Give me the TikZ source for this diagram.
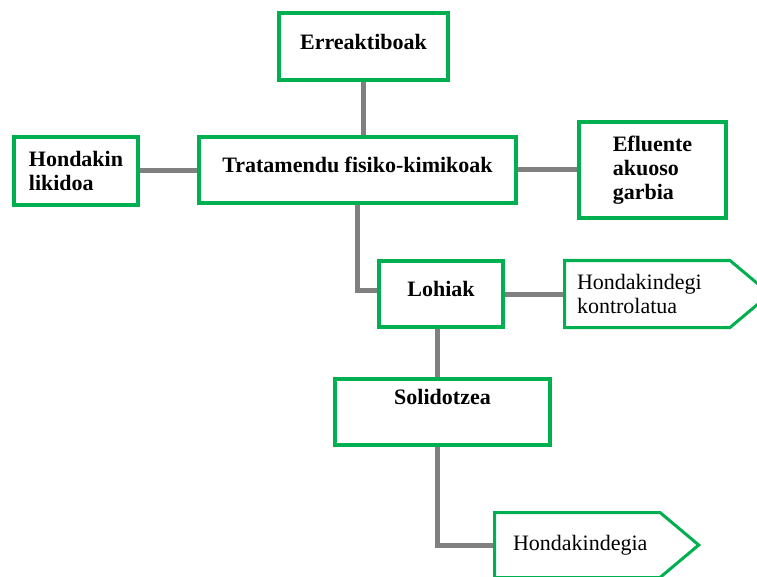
\documentclass[tikz,border=0pt]{standalone}
\usepackage{fontspec}
\setmainfont{Liberation Serif}
\usepackage{tikz}
\usetikzlibrary{shapes,positioning,backgrounds}
\definecolor{boxgreen}{RGB}{0,176,80}
\definecolor{linegray}{RGB}{128,128,128}

\begin{document}
\begin{tikzpicture}[
    x=1pt, y=-1pt,
    font=\fontsize{22}{24}\selectfont,
    box/.style={rectangle, draw=boxgreen, line width=4pt, fill=white,
                inner sep=0pt, font=\fontsize{22}{24}\selectfont\bfseries},
    title/.style={box, text depth=10pt},
    endbox/.style={signal, signal to=east, signal pointer angle=80, draw=boxgreen,
                line width=3pt, fill=white, align=left, inner ysep=0pt},
    link/.style={draw=linegray, line width=5pt}
]
\useasboundingbox (0,0) rectangle (757,577);
\clip (0,0) rectangle (757,577);

\node[title, minimum width=169pt, minimum height=67pt] (erreak) at (363.5,46.5) {Erreaktiboak};
\node[title, minimum width=317pt, minimum height=66pt] (trat) at (357.5,170) {Tratamendu fisiko-kimikoak};
\node[box, align=left, minimum width=124pt, minimum height=68pt] (hond) at (76,171) {Hondakin\\likidoa};
\node[box, align=left, minimum width=147pt, minimum height=96pt] (eflu) at (652.5,170) {Efluente\\akuoso\\garbia};
\node[title, minimum width=124pt, minimum height=66pt] (lohiak) at (441,294) {Lohiak};
\node[box, text depth=31pt, minimum width=215pt, minimum height=66pt] (solid) at (442.5,412) {Solidotzea};
\node[endbox, text width=140.5pt, inner xsep=12.5pt, minimum height=67pt] (kontrol) at (647.25,294) {Hondakindegi\\kontrolatua};
\node[endbox, text width=128.5pt, inner xsep=18.5pt, minimum height=65pt] (depo) at (577.25,545) {Hondakindegia};

\begin{scope}[on background layer]
\draw[link] (erreak.south) -- (erreak.south |- trat.north);
\draw[link] (hond.east) -- (hond.east -| trat.west);
\draw[link] (trat.east) -- (trat.east -| eflu.west);
\draw[link] (trat.south) |- ([yshift=4pt]lohiak.west);
\draw[link] (lohiak.east) -- (kontrol.west);
\draw[link] ([xshift=-4pt]lohiak.south) -- ([xshift=-4pt]lohiak.south |- solid.north);
\draw[link] ([xshift=-5pt]solid.south) |- (depo.west);
\end{scope}

\end{tikzpicture}
\end{document}
